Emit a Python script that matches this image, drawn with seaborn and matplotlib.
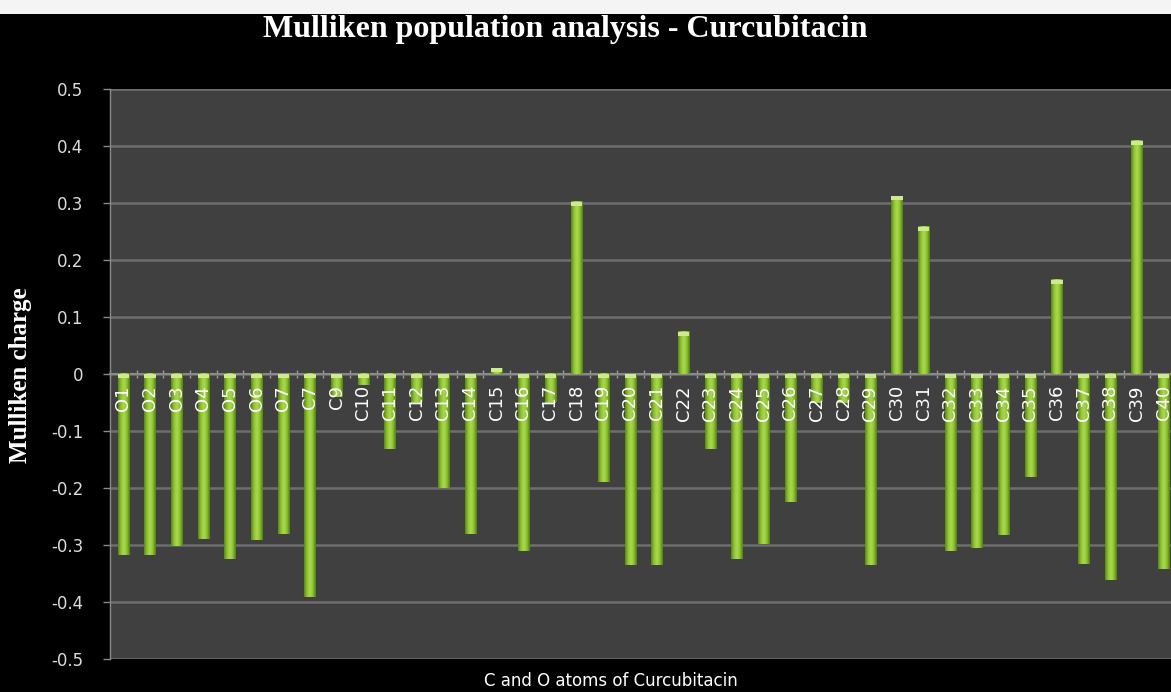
import numpy as np
import matplotlib
matplotlib.use("Agg")
import matplotlib.pyplot as plt
from matplotlib.colors import LinearSegmentedColormap
from matplotlib.patches import Rectangle
from matplotlib.transforms import offset_copy
import seaborn as sns

# Atom labels and their Mulliken charges
atoms = ["O1", "O2", "O3", "O4", "O5", "O6", "O7", "C7", "C9", "C10",
         "C11", "C12", "C13", "C14", "C15", "C16", "C17", "C18", "C19", "C20",
         "C21", "C22", "C23", "C24", "C25", "C26", "C27", "C28", "C29", "C30",
         "C31", "C32", "C33", "C34", "C35", "C36", "C37", "C38", "C39", "C40"]
charges = [-0.318, -0.318, -0.302, -0.290, -0.325, -0.292, -0.280, -0.392, -0.040, -0.020,
           -0.132, -0.050, -0.200, -0.280, 0.010, -0.310, -0.050, 0.302, -0.190, -0.335,
           -0.335, 0.074, -0.132, -0.325, -0.298, -0.225, -0.050, -0.050, -0.335, 0.312,
           0.258, -0.310, -0.305, -0.282, -0.180, 0.165, -0.333, -0.362, 0.409, -0.342]
y_ticks = [0.5, 0.4, 0.3, 0.2, 0.1, 0.0, -0.1, -0.2, -0.3, -0.4, -0.5]
y_tick_labels = ["0.5", "0.4", "0.3", "0.2", "0.1", "0", "-0.1", "-0.2", "-0.3", "-0.4", "-0.5"]

W, H = 1171, 692
fig = plt.figure(figsize=(W / 100, H / 100), dpi=100, facecolor="black")

# light page strip along the top edge
fig.patches.append(Rectangle((0, 1 - 14 / H), 1, 14 / H, transform=fig.transFigure,
                             facecolor="#f4f4f4", edgecolor="none", zorder=-1))

ax = fig.add_axes([110 / W, 1 - 659 / H, 1067 / W, 570 / H])
ax.set_facecolor("#404040")

sns.barplot(x=atoms, y=charges, color="#8cc43a", saturation=1, width=0.42,
            edgecolor="none", ax=ax, zorder=3)

# cylinder-like shading on every bar
shade = LinearSegmentedColormap.from_list(
    "cyl", ["#588416", "#8fc534", "#acd94f", "#8cc232", "#4f7c0e"])
grad = np.linspace(0, 1, 64).reshape(1, -1)
for p in list(ax.patches):
    x0, y0 = p.get_x(), p.get_y()
    w, h = p.get_width(), p.get_height()
    ylo, yhi = min(y0, y0 + h), max(y0, y0 + h)
    ax.imshow(grad, extent=[x0, x0 + w, ylo, yhi], aspect="auto", cmap=shade,
              clip_path=p, clip_on=True, zorder=3.5, interpolation="bicubic")
    ax.add_patch(Rectangle((x0, yhi - 0.007), w, 0.007, facecolor="#cfe98f",
                           edgecolor="none", zorder=4))

ax.set_xlim(-0.5, len(atoms) - 0.5)
ax.set_ylim(-0.5, 0.5)

ax.set_yticks(y_ticks)
ax.set_yticklabels(y_tick_labels)
ax.yaxis.grid(True, color="#6e6e6e", linewidth=1.8)
ax.xaxis.grid(False)
ax.set_axisbelow(True)

for s in ["top", "right"]:
    ax.spines[s].set_visible(False)
ax.spines["left"].set_color("#8a8a8a")
ax.spines["left"].set_linewidth(1.0)
ax.spines["bottom"].set_position(("data", 0))
ax.spines["bottom"].set_color("#8a8a8a")
ax.spines["bottom"].set_linewidth(1.5)

ax.tick_params(axis="y", colors="#8a8a8a", labelcolor="#dcdcdc", labelsize=12,
               length=5, width=1, pad=14)

# category names sit just under the zero line, drawn over the bars
ax.set_xticks(np.arange(len(atoms)))
ax.tick_params(axis="x", which="major", length=0, labelbottom=False)
below = offset_copy(ax.transData, fig=fig, x=0, y=-8, units="points")
for i, name in enumerate(atoms):
    ax.text(i, 0, name, transform=below, rotation=90, ha="center", va="top",
            color="white", fontsize=13, zorder=6)

ax.set_xticks(np.arange(-0.5, len(atoms)), minor=True)
ax.tick_params(axis="x", which="minor", direction="inout", length=6, width=1,
               color="#9a9a9a")
ax.set_xlabel("")
ax.set_ylabel("")

fig.text(565 / W, 1 - 29 / H, "Mulliken population analysis - Curcubitacin",
         color="white", fontsize=23, fontweight="bold", family="Liberation Serif",
         ha="center", va="center")
fig.text(21 / W, 1 - 375 / H, "Mulliken charge", color="white", fontsize=18,
         fontweight="bold", family="Liberation Serif", rotation=90,
         ha="center", va="center")
fig.text(611 / W, 1 - 690 / H, "C and O atoms of Curcubitacin", color="white",
         fontsize=12, family=["Liberation Sans Narrow", "DejaVu Sans"],
         ha="center", va="bottom")

fig.savefig("out.png", dpi=100, facecolor="black")
